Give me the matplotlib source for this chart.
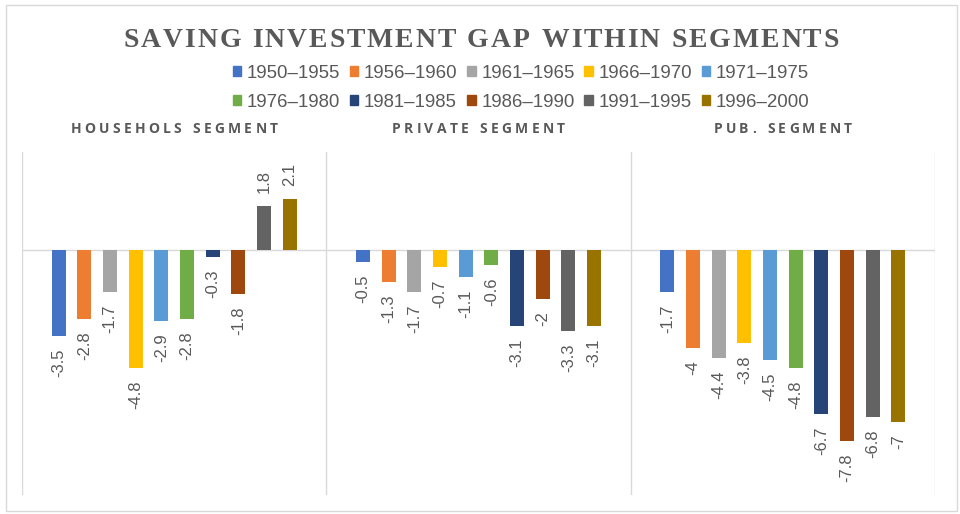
import matplotlib
matplotlib.use("Agg")
import matplotlib.pyplot as plt
from matplotlib.patches import Patch, Rectangle

segments = ["HOUSEHOLS SEGMENT", "PRIVATE SEGMENT", "PUB. SEGMENT"]
periods = ["1950–1955", "1956–1960", "1961–1965", "1966–1970", "1971–1975",
           "1976–1980", "1981–1985", "1986–1990", "1991–1995", "1996–2000"]
households = [-3.5, -2.8, -1.7, -4.8, -2.9, -2.8, -0.3, -1.8, 1.8, 2.1]
private = [-0.5, -1.3, -1.7, -0.7, -1.1, -0.6, -3.1, -2, -3.3, -3.1]
public = [-1.7, -4, -4.4, -3.8, -4.5, -4.8, -6.7, -7.8, -6.8, -7]
colors = ["#4472C4", "#ED7D31", "#A5A5A5", "#FFC000", "#5B9BD5",
          "#70AD47", "#264478", "#9E480E", "#636363", "#997300"]

W, H = 960, 514
txt = "#595959"
grid = "#D9D9D9"

fig = plt.figure(figsize=(9.6, 5.14), dpi=100)
fig.patch.set_facecolor("white")
fig.patches.append(Rectangle((6 / W, 1 - 511 / H), 951 / W, 506 / H,
                             transform=fig.transFigure, fill=False,
                             edgecolor=grid, lw=1))

ax = fig.add_axes([22 / W, 1 - 495 / H, 913 / W, 343 / H])
ax.set_xlim(0, 3)
ax.set_ylim(-10, 4)
for s in ax.spines.values():
    s.set_visible(False)
ax.set_xticks([])
ax.set_yticks([])
for xv in range(4):
    ax.axvline(xv, color=grid, lw=1, zorder=0)
ax.axhline(0, color=grid, lw=1, zorder=0)

pitch = 0.0843
width = 0.046
data = list(zip(households, private, public))
for i, name in enumerate(periods):
    xs = [c + 0.5 + (i - 4.5) * pitch for c in range(3)]
    vals = data[i]
    ax.bar(xs, vals, width, color=colors[i], label=name, zorder=2)
    for x, v in zip(xs, vals):
        ax.annotate(f"{v:g}", (x, v), xytext=(0, 9 if v > 0 else -9),
                    textcoords="offset points", rotation=90,
                    ha="center", va="bottom" if v > 0 else "top",
                    fontsize=12, color=txt, family="Liberation Sans")

renderer = fig.canvas.get_renderer()


def spaced(xc, y, s, gap, **kw):
    # draw text char by char with extra letter spacing, centered at xc (px)
    widths = []
    for ch in s:
        t = fig.text(0, 0, ch if ch != " " else "n", **kw)
        w = t.get_window_extent(renderer).width
        t.remove()
        widths.append(w * 0.5 if ch == " " else w)
    total = sum(widths) + gap * (len(s) - 1)
    x = xc - total / 2
    for ch, w in zip(s, widths):
        if ch != " ":
            fig.text(x / W, 1 - y / H, ch, ha="left", va="center", **kw)
        x += w + gap


spaced(481, 41, "SAVING INVESTMENT GAP WITHIN SEGMENTS", 1.95,
       family="Liberation Serif", fontweight="bold", fontsize=20, color=txt)

for c, name in enumerate(segments):
    xc = 22 + (c + 0.5) * 913 / 3
    spaced(xc, 129, name, 3.3, family="Open Sans", fontweight="bold",
           fontsize=10, color=txt)

# legend fills column by column, so reorder to get row-wise layout
order = [0, 5, 1, 6, 2, 7, 3, 8, 4, 9]
handles = [Patch(facecolor=colors[k], edgecolor=colors[k]) for k in order]
labels = [periods[k] for k in order]
fig.legend(handles, labels, loc="upper left", ncol=5,
           bbox_to_anchor=(233 / W, 1 - 65 / H), frameon=False,
           prop={"family": "Liberation Sans", "size": 13.4},
           labelcolor=txt, handlelength=0.45, handleheight=0.45,
           handletextpad=0.3, columnspacing=0.52, labelspacing=0.62,
           borderpad=0, borderaxespad=0)

fig.savefig("out.png", dpi=100, facecolor="white")
